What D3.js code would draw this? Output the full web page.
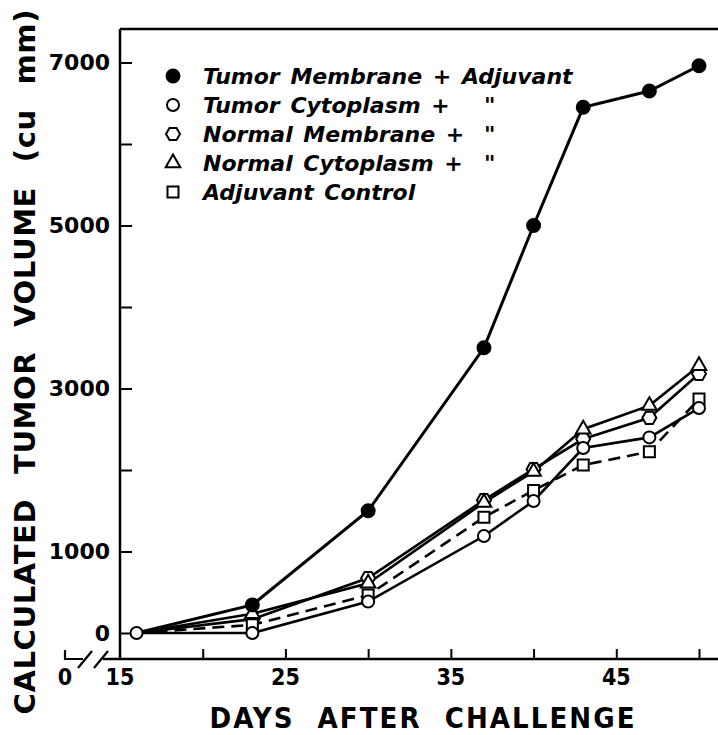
<!DOCTYPE html>
<html>
<head>
<meta charset="utf-8">
<script src="https://cdn.jsdelivr.net/npm/d3@7"></script>
<style>
    html, body { margin: 0; padding: 0; background: #fff; }
    svg { display: block; }
    .tick text { fill: #000; }
</style>
</head>
<body>
<div id="chart"></div>
<script>
// Data
const days = [16, 23, 30, 37, 40, 43, 47, 50];
const tumorMembrane = [0, 345, 1500, 3500, 5000, 6450, 6650, 6960];
const tumorCytoplasm = [0, 0, 385, 1190, 1620, 2270, 2400, 2760];
const normalMembrane = [0, 170, 675, 1630, 2010, 2380, 2640, 3180];
const normalCytoplasm = [0, 235, 610, 1600, 1980, 2500, 2790, 3280];
const adjuvantControl = [0, 100, 465, 1420, 1750, 2060, 2225, 2870];

const legendLabels = ['Tumor Membrane + Adjuvant', 'Tumor Cytoplasm +', 'Normal Membrane +', 'Normal Cytoplasm +', 'Adjuvant Control'];
const legendDitto = [false, true, true, true, false];

const xTicks = [20, 25, 30, 35, 40, 45, 50];
const xTickLabels = [15, 25, 35, 45];
const yTicks = [0, 1000, 2000, 3000, 4000, 5000, 6000, 7000];
const yTickLabels = [0, 1000, 3000, 5000, 7000];

const series = [
    {name: legendLabels[0], values: tumorMembrane, marker: 'filled', dash: null, width: 3},
    {name: legendLabels[1], values: tumorCytoplasm, marker: 'circle', dash: null, width: 2.6},
    {name: legendLabels[2], values: normalMembrane, marker: 'hexagon', dash: null, width: 2.6},
    {name: legendLabels[3], values: normalCytoplasm, marker: 'triangle', dash: null, width: 2.6},
    {name: legendLabels[4], values: adjuvantControl, marker: 'square', dash: '12,7', width: 2.6}
];

const W = 718, H = 735;
const svg = d3.select('#chart').append('svg')
    .attr('width', W)
    .attr('height', H);

const x = d3.scaleLinear().domain([15, 50]).range([120, 699]);
const y = d3.scaleLinear().domain([0, 7000]).range([633, 62.5]);
const axisY = 659, topY = 29;

const numFont = '"Liberation Sans Narrow", "DejaVu Sans Condensed", sans-serif';

// Marker shapes
function markerPath(type) {
    if (type === 'filled') return d3.symbol(d3.symbolCircle, Math.PI * 42)();
    if (type === 'circle') return d3.symbol(d3.symbolCircle, Math.PI * 36)();
    if (type === 'triangle') return d3.symbol(d3.symbolTriangle, 92)();
    if (type === 'square') return d3.symbol(d3.symbolSquare, 121)();
    // hexagon, pointy left/right
    const r = 7;
    const pts = d3.range(6).map(i => [r * Math.cos(i * Math.PI / 3), r * Math.sin(i * Math.PI / 3)]);
    return d3.line()(pts) + 'Z';
}

function drawMarker(g, type, cx, cy) {
    g.append('path')
        .attr('d', markerPath(type))
        .attr('transform', `translate(${cx},${cy})`)
        .attr('fill', type === 'filled' ? '#000' : '#fff')
        .attr('stroke', '#000')
        .attr('stroke-width', 2);
}

// Frame lines
svg.append('line')
    .attr('x1', 120).attr('x2', W).attr('y1', topY).attr('y2', topY)
    .attr('stroke', '#000').attr('stroke-width', 2.5);
svg.append('line')
    .attr('x1', 120).attr('x2', 120).attr('y1', topY).attr('y2', axisY)
    .attr('stroke', '#000').attr('stroke-width', 2.5);
svg.append('line')
    .attr('x1', 103).attr('x2', W).attr('y1', axisY).attr('y2', axisY)
    .attr('stroke', '#000').attr('stroke-width', 2.5);

// Broken axis piece near the origin
svg.append('path')
    .attr('d', `M65,${axisY - 9}L65,${axisY}L83,${axisY}`)
    .attr('fill', 'none').attr('stroke', '#000').attr('stroke-width', 2.2);
svg.append('path')
    .attr('d', `M78,${axisY + 9}L92,${axisY - 8}M94,${axisY + 9}L108,${axisY - 8}`)
    .attr('fill', 'none').attr('stroke', '#000').attr('stroke-width', 2.2);
svg.append('text')
    .attr('x', 65).attr('y', 685)
    .attr('text-anchor', 'middle')
    .style('font-family', numFont).style('font-weight', 'bold').style('font-size', '23px')
    .text('0');

// X axis ticks and labels
const xAxis = svg.append('g')
    .attr('transform', `translate(0,${axisY})`)
    .call(d3.axisBottom(x).tickValues(xTicks).tickSize(-10).tickFormat(''));
xAxis.select('.domain').remove();
xAxis.selectAll('line').attr('stroke-width', 2);

svg.selectAll('.xlabel')
    .data(xTickLabels)
    .enter()
    .append('text')
    .attr('class', 'xlabel')
    .attr('x', d => x(d))
    .attr('y', 685)
    .attr('text-anchor', 'middle')
    .style('font-family', numFont).style('font-weight', 'bold').style('font-size', '23px')
    .text(d => d);

// Y axis ticks and labels
const yAxis = svg.append('g')
    .attr('transform', 'translate(120,0)')
    .call(d3.axisLeft(y).tickValues(yTicks).tickSize(-12).tickPadding(10)
        .tickFormat(d => yTickLabels.includes(d) ? d : ''));
yAxis.select('.domain').remove();
yAxis.selectAll('line').attr('stroke-width', 2);
yAxis.selectAll('text')
    .style('font-family', '"DejaVu Sans", sans-serif')
    .style('font-weight', 'bold')
    .style('font-size', '22px');

// Axis titles
svg.append('text')
    .attr('transform', 'translate(35,362) rotate(-90)')
    .attr('text-anchor', 'middle')
    .attr('textLength', 705)
    .attr('lengthAdjust', 'spacing')
    .style('font-family', '"DejaVu Sans", sans-serif')
    .style('font-weight', 'bold')
    .style('font-size', '29px')
    .style('word-spacing', '14px')
    .text('CALCULATED TUMOR VOLUME (cu mm)');

svg.append('text')
    .attr('x', 422).attr('y', 728)
    .attr('text-anchor', 'middle')
    .attr('textLength', 425)
    .attr('lengthAdjust', 'spacing')
    .style('font-family', numFont)
    .style('font-weight', 'bold')
    .style('font-size', '29px')
    .style('word-spacing', '12px')
    .text('DAYS AFTER CHALLENGE');

// Lines
const line = d3.line()
    .x((d, i) => x(days[i]))
    .y(d => y(d));

const plot = svg.append('g');
series.slice().reverse().forEach(s => {
    plot.append('path')
        .datum(s.values)
        .attr('d', line)
        .attr('fill', 'none')
        .attr('stroke', '#000')
        .attr('stroke-width', s.width)
        .attr('stroke-dasharray', s.dash);
});

// Markers (drawn after lines so they sit on top)
const markerOrder = [2, 3, 4, 1, 0];
markerOrder.forEach(k => {
    const s = series[k];
    s.values.forEach((v, i) => {
        if (i === 0 && k !== 1) return; // single shared point at day 16
        drawMarker(plot, s.marker, x(days[i]), y(v));
    });
});

// Legend
const legend = svg.append('g');
series.forEach((s, i) => {
    const ly = 76 + i * 29;
    drawMarker(legend, s.marker, 173, ly);
    legend.append('text')
        .attr('x', 203).attr('y', ly + 8)
        .style('font-family', '"DejaVu Sans", sans-serif')
        .style('font-weight', 'bold')
        .style('font-style', 'italic')
        .style('font-size', '22px')
        .style('word-spacing', '3px')
        .text(legendLabels[i]);
    if (legendDitto[i]) {
        legend.append('text')
            .attr('x', 484).attr('y', ly + 8)
            .style('font-family', '"DejaVu Sans", sans-serif')
            .style('font-weight', 'bold')
            .style('font-style', 'italic')
            .style('font-size', '22px')
            .text('"');
    }
});
</script>
</body>
</html>
